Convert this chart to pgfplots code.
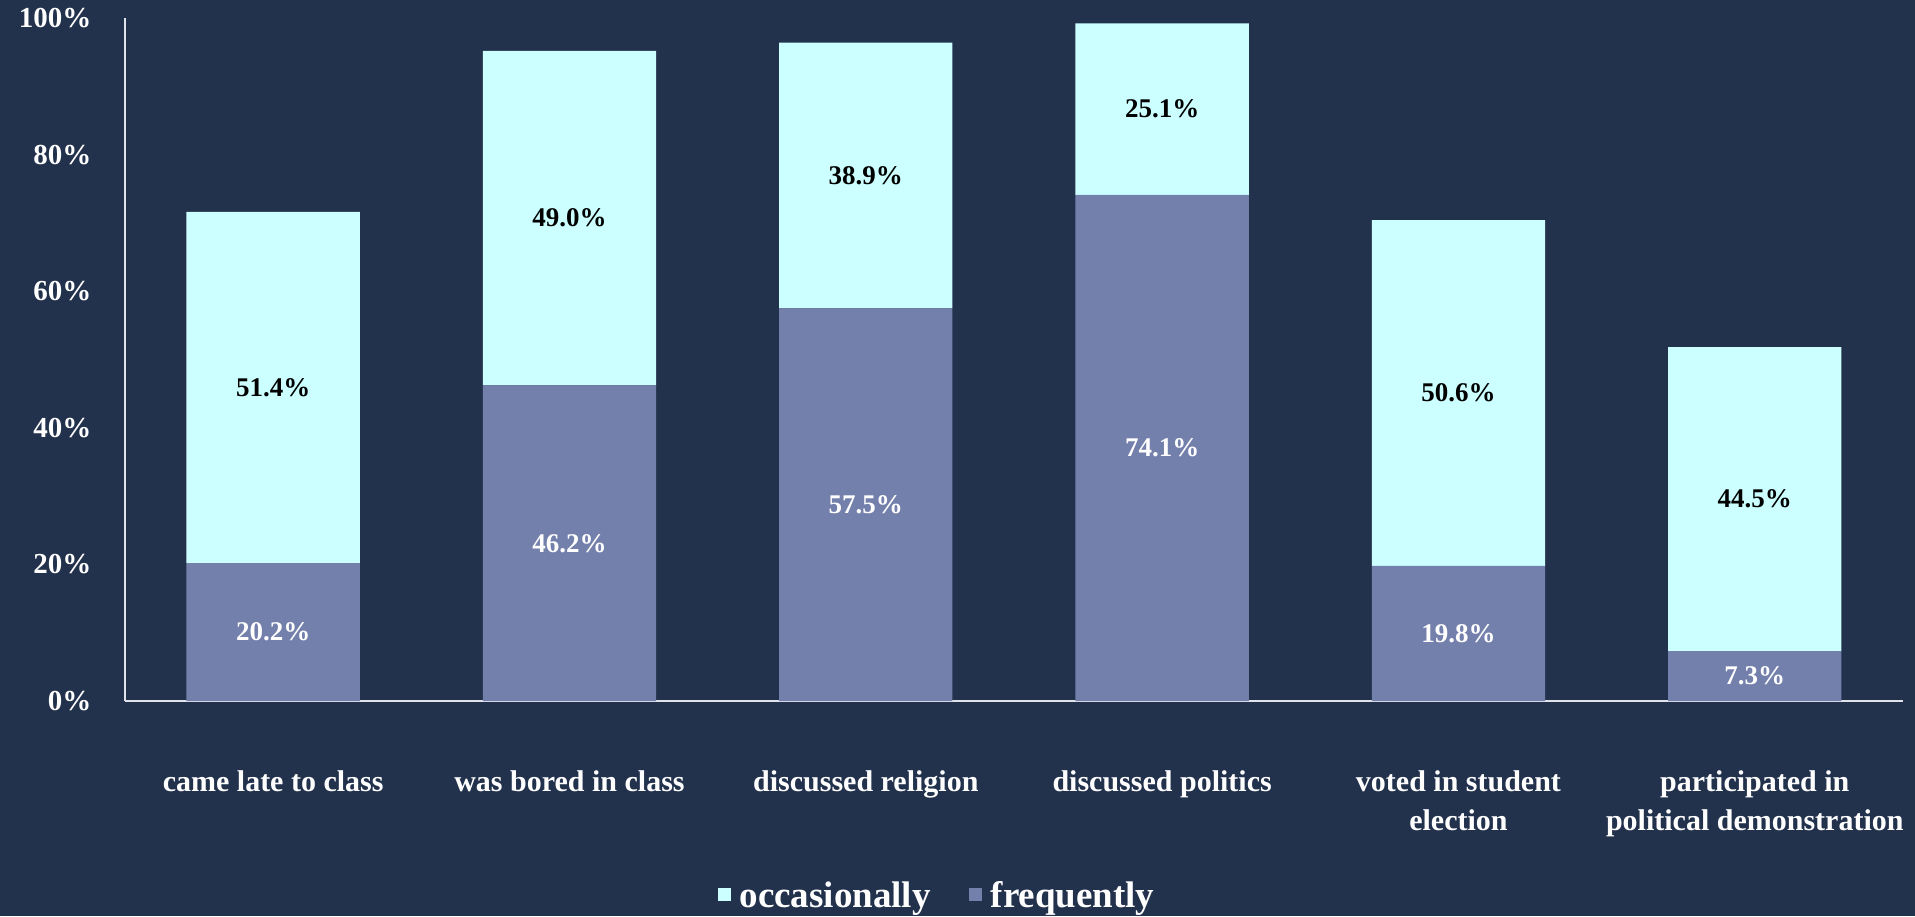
\documentclass[border=0pt]{standalone}
\usepackage{pgfplots}
\pgfplotsset{compat=1.18}
\usepackage{pgfplotstable}
\usepackage{fontspec}
\setmainfont{Liberation Serif}

\definecolor{bg}{HTML}{22314C}
\definecolor{occ}{HTML}{CCFFFF}
\definecolor{freq}{HTML}{7480AC}
\definecolor{axisline}{HTML}{E0E3EA}

% x = category, f = frequently, o = occasionally (in %)
\pgfplotstableread{
x f o
0 20.2 51.4
1 46.2 49.0
2 57.5 38.9
3 74.1 25.1
4 19.8 50.6
5 7.3 44.5
}\datatable

\pgfplotsset{
  geom/.style={
    at={(125pt,215pt)}, anchor=south west,
    scale only axis, width=1778pt, height=683pt,
    xmin=-0.5, xmax=5.5, ymin=0, ymax=100,
  },
  vallabel/.style={
    nodes near coords={\pgfmathprintnumber[fixed,fixed zerofill,precision=1,assume math mode=true]{\pgfplotspointmeta}\%},
    nodes near coords style={anchor=center, font=\fontsize{27}{30}\selectfont\bfseries},
  },
}

\begin{document}
\begin{tikzpicture}[x=1pt,y=1pt]
\fill[bg] (0,0) rectangle (1915,916);
\useasboundingbox (0,0) rectangle (1915,916);

\begin{axis}[
  geom,
  ybar stacked, bar width=0.585,
  axis x line*=bottom, axis y line*=left,
  axis line style={axisline, line width=1.2pt, -},
  major tick length=0pt,
  xtick={0,...,5},
  xticklabels={came late to class, was bored in class, discussed religion,
    discussed politics, {voted in student\\election},
    {participated in\\political demonstration}},
  xticklabel style={align=center, anchor=north, yshift=-66pt, text=white,
    font=\fontsize{30}{39}\selectfont\bfseries},
  ytick={0,20,...,100},
  yticklabels={0\%,20\%,40\%,60\%,80\%,100\%},
  yticklabel style={anchor=east, xshift=-30pt, text=white,
    font=\fontsize{29}{32}\selectfont\bfseries},
  reverse legend,
  legend columns=2,
  legend image code/.code={\fill[#1] (0pt,-6pt) rectangle (13pt,7pt); \path (20pt,0pt);},
  legend style={at={(0.4567,-0.284)}, anchor=center, draw=none, fill=none,
    text=white, font=\fontsize{37}{40}\selectfont\bfseries,
    /tikz/every even column/.append style={column sep=36pt}},
]
\addplot[fill=freq, draw=none] table[x=x, y=f] {\datatable};
\addplot[fill=occ, draw=none] table[x=x, y=o] {\datatable};
\legend{frequently, occasionally}
\end{axis}

% value labels, centred in each segment
\begin{axis}[geom, hide axis]
\addplot[draw=none, mark=none, vallabel, point meta=\thisrow{f},
  nodes near coords style={text=white}]
  table[x=x, y expr=\thisrow{f}/2] {\datatable};
\addplot[draw=none, mark=none, vallabel, point meta=\thisrow{o},
  nodes near coords style={text=black}]
  table[x=x, y expr=\thisrow{f}+\thisrow{o}/2] {\datatable};
\end{axis}
\end{tikzpicture}
\end{document}
